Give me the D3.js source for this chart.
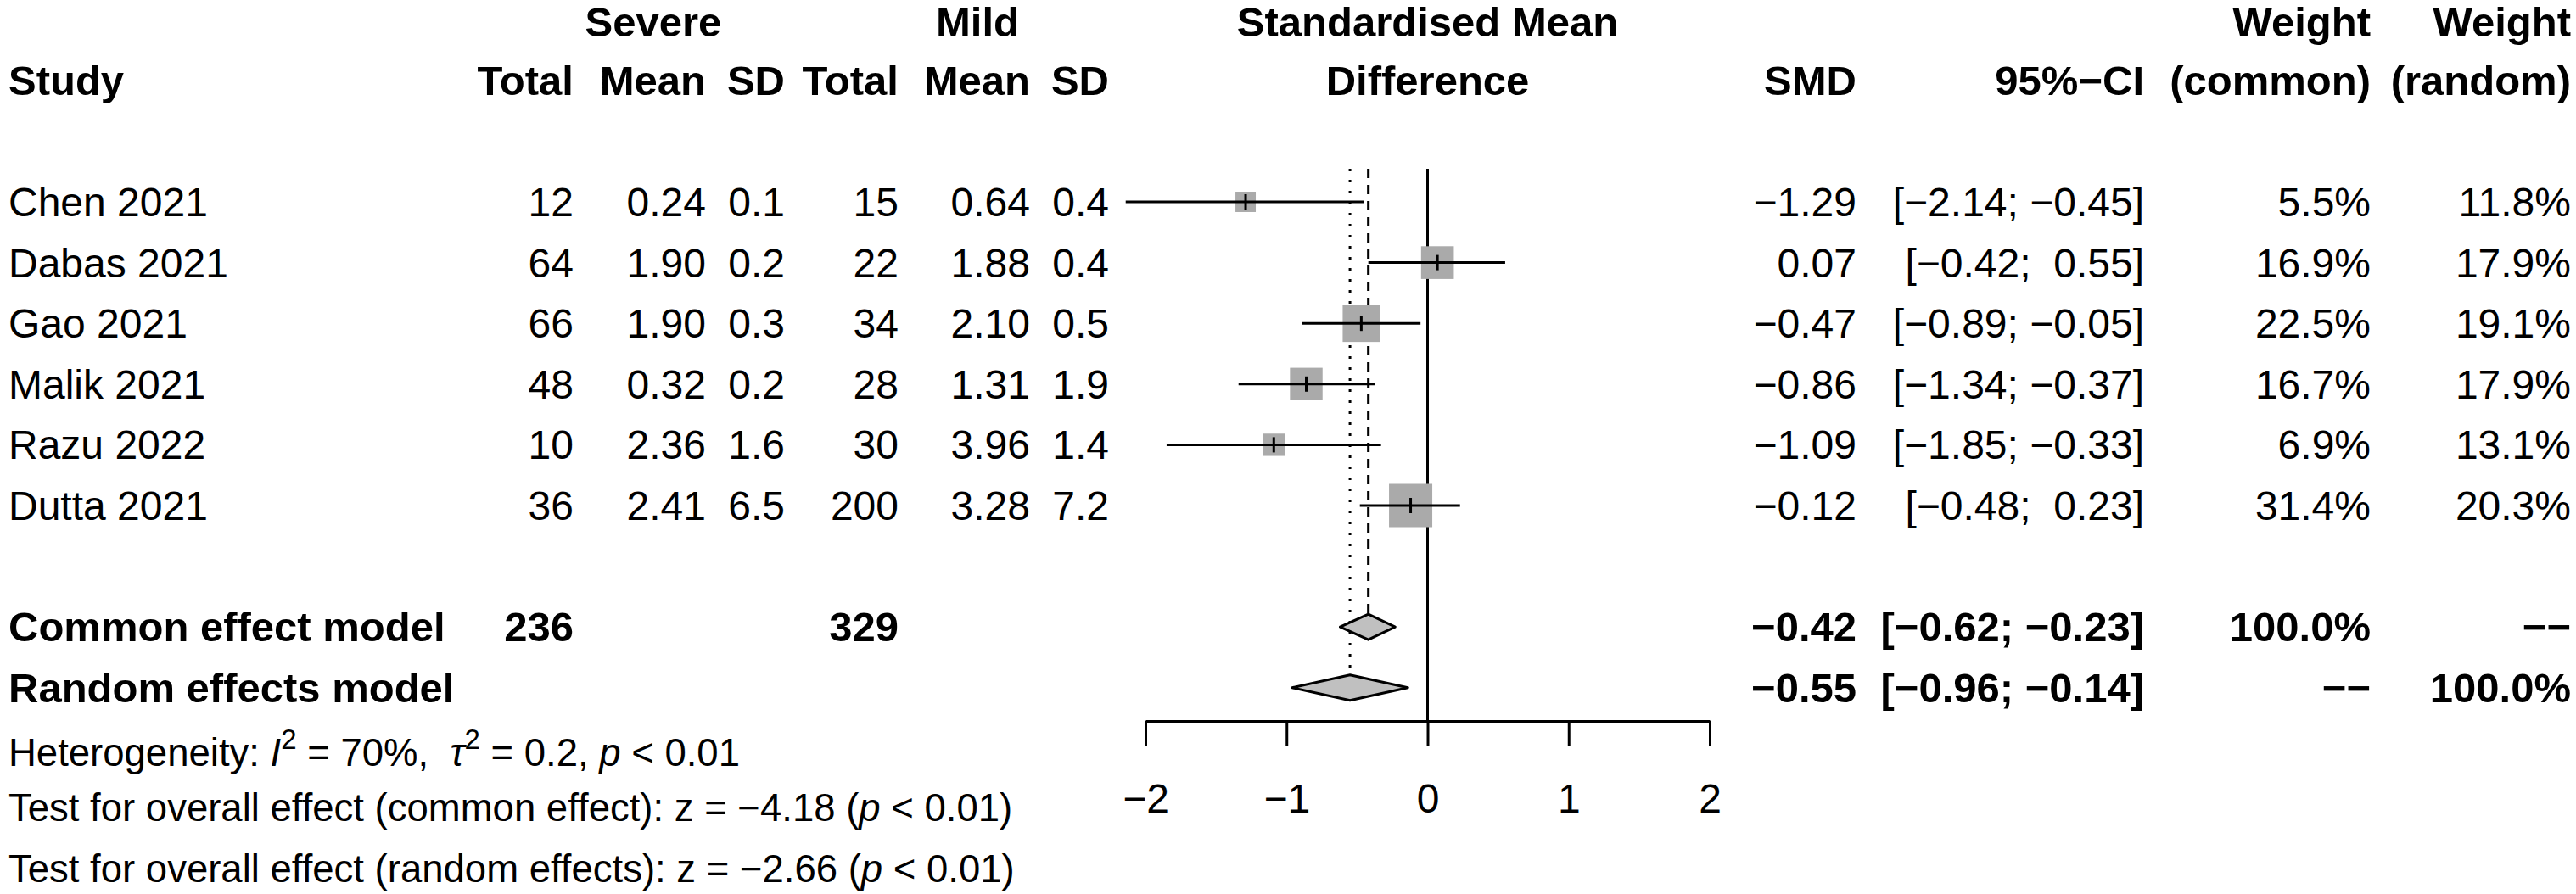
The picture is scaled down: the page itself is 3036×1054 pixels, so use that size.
<!DOCTYPE html>
<html>
<head>
<meta charset="utf-8">
<script src="https://cdn.jsdelivr.net/npm/d3@7"></script>
<style>
  body { margin: 0; background: #fff; }
  text { font-family: "Liberation Sans", Arial, sans-serif; font-size: 48px; fill: #000; white-space: pre; }
  .bold { font-weight: bold; font-size: 49px; }
  .foot { font-size: 45.5px; }
</style>
</head>
<body>
<script>
// Chart data
var studies = ["Chen 2021", "Dabas 2021", "Gao 2021", "Malik 2021", "Razu 2022", "Dutta 2021"];
var severeTotal = [12, 64, 66, 48, 10, 36];
var severeMean = [0.24, 1.90, 1.90, 0.32, 2.36, 2.41];
var severeSD = [0.1, 0.2, 0.3, 0.2, 1.6, 6.5];
var mildTotal = [15, 22, 34, 28, 30, 200];
var mildMean = [0.64, 1.88, 2.10, 1.31, 3.96, 3.28];
var mildSD = [0.4, 0.4, 0.5, 1.9, 1.4, 7.2];
var smd = [-1.29, 0.07, -0.47, -0.86, -1.09, -0.12];
var ciLower = [-2.14, -0.42, -0.89, -1.34, -1.85, -0.48];
var ciUpper = [-0.45, 0.55, -0.05, -0.37, -0.33, 0.23];
var weightCommon = [5.5, 16.9, 22.5, 16.7, 6.9, 31.4];
var weightRandom = [11.8, 17.9, 19.1, 17.9, 13.1, 20.3];

var models = ["Common effect model", "Random effects model"];
var modelSevereTotal = [236, null];
var modelMildTotal = [329, null];
var modelSmd = [-0.42, -0.55];
var modelLower = [-0.62, -0.96];
var modelUpper = [-0.23, -0.14];
var modelWeightCommon = [100, null];
var modelWeightRandom = [null, 100];

var xTicks = [-2, -1, 0, 1, 2];

// SVG area
var svgWidth = 3036;
var svgHeight = 1054;

var svg = d3.select("body")
  .append("svg")
  .attr("width", svgWidth)
  .attr("height", svgHeight);

svg.append("rect").attr("width", svgWidth).attr("height", svgHeight).attr("fill", "#fff");

// scales
var xScale = d3.scaleLinear().domain([-2, 2]).range([1350, 2015]);
var rowScale = d3.scaleLinear().domain([0, 5]).range([238, 596]);
var sizeScale = d3.scaleSqrt().domain([0, d3.max(weightCommon)]).range([4.5, 51]);

var f2 = d3.format(".2f");
var f1 = d3.format(".1f");
var pad = function(v) { return (v >= 0 ? " " : "") + f2(v); };
var ciText = function(lo, hi) { return "[" + pad(lo) + "; " + pad(hi) + "]"; };
var pct = function(v) { return v == null ? "\u2212\u2212" : f1(v) + "%"; };

// column positions (right edges unless noted)
var col = {
  study: 10, sevTotal: 676, sevMean: 832, sevSD: 925,
  milTotal: 1059, milMean: 1214, milSD: 1307,
  smd: 2188, ci: 2527, wCommon: 2794, wRandom: 3030
};
var baseOff = 17; // text baseline below row centre

function addText(x, y, str, anchor, bold) {
  return svg.append("text")
    .attr("x", x)
    .attr("y", y)
    .attr("text-anchor", anchor || "end")
    .classed("bold", !!bold)
    .text(str);
}

// header
var h1 = 43;
var h2 = rowScale(-2) + baseOff;
addText(col.sevMean - 62, h1, "Severe", "middle", true);
addText(col.milMean - 62, h1, "Mild", "middle", true);
addText(xScale(0), h1, "Standardised Mean", "middle", true);
addText(col.wCommon, h1, "Weight", "end", true);
addText(col.wRandom, h1, "Weight", "end", true);

addText(col.study, h2, "Study", "start", true);
addText(col.sevTotal, h2, "Total", "end", true);
addText(col.sevMean, h2, "Mean", "end", true);
addText(col.sevSD, h2, "SD", "end", true);
addText(col.milTotal, h2, "Total", "end", true);
addText(col.milMean, h2, "Mean", "end", true);
addText(col.milSD, h2, "SD", "end", true);
addText(xScale(0), h2, "Difference", "middle", true);
addText(col.smd, h2, "SMD", "end", true);
addText(col.ci, h2, "95%\u2212CI", "end", true);
addText(col.wCommon, h2, "(common)", "end", true);
addText(col.wRandom, h2, "(random)", "end", true);

// reference lines
var lineTop = rowScale(0) - 39;
var axisY = 850;
var diamondH = 15;

svg.append("line")
  .attr("x1", xScale(0)).attr("x2", xScale(0))
  .attr("y1", lineTop).attr("y2", axisY)
  .attr("stroke", "#000").attr("stroke-width", 3);

svg.append("line")
  .attr("x1", xScale(modelSmd[0])).attr("x2", xScale(modelSmd[0]))
  .attr("y1", lineTop).attr("y2", rowScale(7) - diamondH)
  .attr("stroke", "#000").attr("stroke-width", 3)
  .attr("stroke-dasharray", "11,8");

svg.append("line")
  .attr("x1", xScale(modelSmd[1])).attr("x2", xScale(modelSmd[1]))
  .attr("y1", lineTop).attr("y2", rowScale(8) - diamondH)
  .attr("stroke", "#000").attr("stroke-width", 3)
  .attr("stroke-dasharray", "3,10");

// study rows
studies.forEach(function(name, i) {
  var cy = rowScale(i);
  var ty = cy + baseOff;
  addText(col.study, ty, name, "start");
  addText(col.sevTotal, ty, severeTotal[i]);
  addText(col.sevMean, ty, f2(severeMean[i]));
  addText(col.sevSD, ty, f1(severeSD[i]));
  addText(col.milTotal, ty, mildTotal[i]);
  addText(col.milMean, ty, f2(mildMean[i]));
  addText(col.milSD, ty, f1(mildSD[i]));
  addText(col.smd, ty, f2(smd[i]));
  addText(col.ci, ty, ciText(ciLower[i], ciUpper[i]));
  addText(col.wCommon, ty, pct(weightCommon[i]));
  addText(col.wRandom, ty, pct(weightRandom[i]));

  var s = sizeScale(weightCommon[i]);
  svg.append("rect")
    .attr("x", xScale(smd[i]) - s / 2)
    .attr("y", cy - s / 2)
    .attr("width", s)
    .attr("height", s)
    .attr("fill", "#aaaaaa");

  svg.append("line")
    .attr("x1", xScale(ciLower[i])).attr("x2", xScale(ciUpper[i]))
    .attr("y1", cy).attr("y2", cy)
    .attr("stroke", "#000").attr("stroke-width", 3);

  svg.append("line")
    .attr("x1", xScale(smd[i])).attr("x2", xScale(smd[i]))
    .attr("y1", cy - 9).attr("y2", cy + 9)
    .attr("stroke", "#000").attr("stroke-width", 3);
});

// summary rows
models.forEach(function(name, j) {
  var cy = rowScale(6 + j + 1);
  var ty = cy + baseOff;
  addText(col.study, ty, name, "start", true);
  if (modelSevereTotal[j] != null) addText(col.sevTotal, ty, modelSevereTotal[j], "end", true);
  if (modelMildTotal[j] != null) addText(col.milTotal, ty, modelMildTotal[j], "end", true);
  addText(col.smd, ty, f2(modelSmd[j]), "end", true);
  addText(col.ci, ty, ciText(modelLower[j], modelUpper[j]), "end", true);
  addText(col.wCommon, ty, pct(modelWeightCommon[j]), "end", true);
  addText(col.wRandom, ty, pct(modelWeightRandom[j]), "end", true);

  var pts = [
    [xScale(modelLower[j]), cy],
    [xScale(modelSmd[j]), cy - diamondH],
    [xScale(modelUpper[j]), cy],
    [xScale(modelSmd[j]), cy + diamondH]
  ];
  svg.append("path")
    .attr("d", d3.line()(pts) + "Z")
    .attr("fill", "#c0c0c0")
    .attr("stroke", "#000")
    .attr("stroke-width", 3)
    .attr("stroke-linejoin", "round");
});

// x axis
var bottomAxis = d3.axisBottom(xScale)
  .tickValues(xTicks)
  .tickSize(30)
  .tickSizeOuter(0)
  .tickPadding(44)
  .tickFormat(d3.format("d"));

var axisGroup = svg.append("g")
  .attr("transform", "translate(0, " + axisY + ")")
  .call(bottomAxis);
axisGroup.selectAll("path, line").attr("stroke", "#000").attr("stroke-width", 3);
axisGroup.selectAll("text")
  .attr("font-family", null).attr("font-size", null)
  .style("font-size", "48px");

// heterogeneity and tests
var het = svg.append("text").attr("class", "foot").attr("x", col.study).attr("y", 903);
het.append("tspan").text("Heterogeneity: ");
het.append("tspan").style("font-style", "italic").text("I");
het.append("tspan").attr("dy", -20).style("font-size", "33px").text("2");
het.append("tspan").attr("dy", 20).text(" = 70%,  ");
het.append("tspan").style("font-style", "italic").text("\u03c4");
het.append("tspan").attr("dy", -20).style("font-size", "33px").text("2");
het.append("tspan").attr("dy", 20).text(" = 0.2, ");
het.append("tspan").style("font-style", "italic").text("p");
het.append("tspan").text(" < 0.01");

var testLines = [
  ["Test for overall effect (common effect): ", "\u22124.18", 968],
  ["Test for overall effect (random effects): ", "\u22122.66", 1040]
];
testLines.forEach(function(t) {
  var el = svg.append("text").attr("class", "foot").attr("x", col.study).attr("y", t[2]);
  el.append("tspan").text(t[0]);
  el.append("tspan").text("z = " + t[1] + " (");
  el.append("tspan").style("font-style", "italic").text("p");
  el.append("tspan").text(" < 0.01)");
});
</script>
</body>
</html>
